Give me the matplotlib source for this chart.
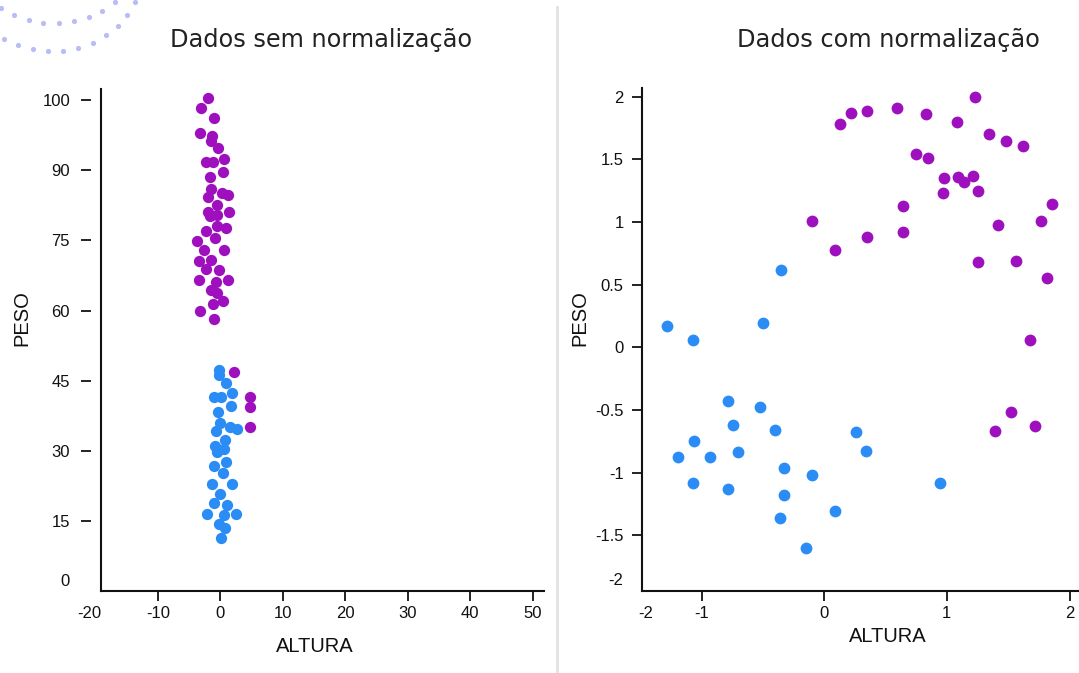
import matplotlib
matplotlib.use("Agg")
import matplotlib.pyplot as plt
from matplotlib.lines import Line2D

# Dados sem normalização (altura, peso)
altura_sem_roxo = [-2.05, -3.12, -1.09, -3.23, -1.41, -1.57, -0.45, -2.37, -1.15, 0.56,
                   0.40, -1.73, -1.47, -2.00, 0.29, 1.25, -0.51, -2.00, 1.41, -1.68,
                   -0.56, -0.51, 0.88, -2.32, -0.88, -3.76, 0.56, -2.64, -3.44, -1.47,
                   -2.32, -0.24, -3.44, -0.77, 1.15, -1.57, -0.51, 0.45, -1.20, -3.32,
                   -1.04, 2.11, 4.71, 4.71, 4.71]
peso_sem_roxo = [105.4, 103.3, 101.2, 97.9, 97.3, 96.2, 94.8, 91.7, 91.7, 92.4,
                 89.6, 88.5, 86.1, 84.3, 85.2, 84.8, 82.5, 81.1, 81.0, 80.2,
                 80.4, 78.1, 77.6, 77.0, 75.5, 74.9, 72.9, 72.9, 70.6, 70.9,
                 68.8, 68.6, 66.5, 66.2, 66.5, 64.3, 63.8, 62.1, 61.4, 59.8,
                 58.1, 46.9, 41.6, 39.3, 35.1]
altura_sem_azul = [-0.19, -0.29, 0.88, -1.09, 0.13, 1.89, 1.73, -0.40, -0.13, -0.77,
                   1.57, 2.59, 0.72, -0.88, 0.61, -0.51, 0.88, -1.04, 0.40, -1.31,
                   1.84, -0.13, -1.09, 1.04, -2.16, 0.51, 2.48, -0.24, 0.77, 0.13]
peso_sem_azul = [47.2, 46.2, 44.6, 41.6, 41.6, 42.3, 39.5, 38.4, 35.9, 34.3,
                 35.1, 34.7, 32.4, 31.1, 30.4, 29.7, 27.6, 26.8, 25.3, 22.9,
                 22.9, 20.8, 18.8, 18.5, 16.5, 16.2, 16.5, 14.3, 13.4, 11.4]

# Dados com normalização
altura_com_roxo = [0.13, 0.22, 0.35, 0.59, 0.83, 1.08, 1.23, 1.34, 1.48, 1.62,
                   0.75, 0.85, 0.98, 1.09, 1.14, 1.21, 0.97, 1.25, 0.64, 1.86,
                   -0.10, 1.42, 1.77, 0.64, 0.35, 0.09, 1.25, 1.56, 1.82, 1.68,
                   1.52, 1.39, 1.72]
peso_com_roxo = [1.78, 1.87, 1.89, 1.91, 1.86, 1.80, 2.00, 1.70, 1.65, 1.61,
                 1.54, 1.51, 1.35, 1.36, 1.32, 1.37, 1.23, 1.25, 1.13, 1.14,
                 1.01, 0.98, 1.01, 0.92, 0.88, 0.78, 0.68, 0.69, 0.55, 0.06,
                 -0.52, -0.67, -0.63]
altura_com_azul = [-1.28, -1.07, -0.50, -0.35, -0.78, -0.52, -0.74, -0.40, -1.06, -1.19,
                   -0.93, -0.70, -0.33, -0.10, 0.26, 0.34, -1.07, -0.78, -0.33, -0.36,
                   0.09, -0.15, 0.94]
peso_com_azul = [0.17, 0.06, 0.19, 0.62, -0.43, -0.48, -0.62, -0.66, -0.75, -0.88,
                 -0.88, -0.84, -0.96, -1.02, -0.68, -0.83, -1.08, -1.13, -1.18, -1.36,
                 -1.31, -1.60, -1.08]

titulos = ["Dados sem normalização", "Dados com normalização"]
ticks_sem_y = [15, 30, 45, 60, 75, 90, 105]
labels_sem_y = ["15", "30", "45", "60", "75", "90", "100"]
ticks_sem_x = [-10, 0, 10, 20, 30, 40, 50]
ticks_com = [-1.5, -1, -0.5, 0, 0.5, 1, 1.5, 2]
ticks_com_x = [-1, 0, 1, 2]

# pontinhos decorativos no canto
decor_x = [0.7, 14, 28.7, 43.3, 59, 74, 88.7, 102.3, 115,
           4, 18.3, 32.7, 48, 63.3, 78.3, 93, 106, 117.7, 127.3, 134.7]
decor_y = [8.3, 15, 20.3, 22.7, 23, 21, 16.7, 10.7, 2.3,
           39.3, 45.3, 49.3, 51, 50.7, 47.7, 42.7, 35.3, 26, 14.7, 1.7]

roxo = "#9E10BE"
azul = "#2A8CF4"
preto = "#111111"
plt.rcParams["font.family"] = ["Liberation Sans", "DejaVu Sans"]
plt.rcParams["axes.unicode_minus"] = False

W, H = 1079, 673
fig = plt.figure(figsize=(W / 100, H / 100), dpi=100)

ax1 = fig.add_axes([101 / W, 1 - 591 / H, 443 / W, 502 / H])
ax2 = fig.add_axes([642 / W, 1 - 591 / H, 437 / W, 503 / H])

ax1.scatter(altura_sem_roxo, peso_sem_roxo, s=66, color=roxo, linewidths=0)
ax1.scatter(altura_sem_azul, peso_sem_azul, s=66, color=azul, linewidths=0)
ax2.scatter(altura_com_roxo, peso_com_roxo, s=72, color=roxo, linewidths=0)
ax2.scatter(altura_com_azul, peso_com_azul, s=72, color=azul, linewidths=0)

ax1.set_xlim(-19.1, 51.8)
ax1.set_ylim(0, 107.4)
ax2.set_xlim(-1.485, 2.077)
ax2.set_ylim(-1.946, 2.07)

for ax in (ax1, ax2):
    for s in ("top", "right"):
        ax.spines[s].set_visible(False)
    for s in ("left", "bottom"):
        ax.spines[s].set_linewidth(1.5)
        ax.spines[s].set_color(preto)
    ax.tick_params(length=7.3, width=1.3, color=preto, labelsize=12,
                   labelcolor=preto)
    ax.tick_params(axis="x", pad=3.5)

# eixo esquerdo: marcas do eixo y soltas da linha
ax1.spines["left"].set_position(("outward", 7))
ax1.spines["left"].set_visible(False)
ax1.axvline(-19.1, color=preto, lw=1.5, clip_on=False)
ax1.set_xticks(ticks_sem_x)
ax1.set_yticks([2.4] + ticks_sem_y)
ax1.set_yticklabels(["0"] + labels_sem_y)
ax1.yaxis.get_major_ticks()[0].tick1line.set_visible(False)
ax1.tick_params(axis="y", pad=8)
ax1.annotate("-20", xy=(-20.9, 0), xycoords=("data", "axes fraction"),
             xytext=(0, -10.8), textcoords="offset points", ha="center", va="top",
             fontsize=12, color=preto, annotation_clip=False)

# eixo direito
ax2.set_xticks([-1.455] + ticks_com_x)
ax2.set_xticklabels(["-2", "-1", "0", "1", "2"])
ax2.xaxis.get_major_ticks()[0].tick1line.set_visible(False)
ax2.set_yticks([-1.85] + ticks_com)
ax2.set_yticklabels(["-2", "-1.5", "-1", "-0.5", "0", "0.5", "1", "1.5", "2"])
ax2.yaxis.get_major_ticks()[0].tick1line.set_visible(False)
ax2.tick_params(axis="y", pad=6)

for ax in (ax1, ax2):
    ax.set_xlabel("ALTURA", fontsize=14.5, color=preto)
    ax.set_ylabel("PESO", fontsize=14.5, color=preto)
ax1.xaxis.set_label_coords((315 - 101) / 443, -0.0926)
ax1.yaxis.set_label_coords(-0.158, 0.544)
ax2.xaxis.set_label_coords((888 - 642) / 437, -0.0706)
ax2.yaxis.set_label_coords(-0.121, 0.543)

fig.text(321 / W, 1 - 40 / H, titulos[0], ha="center", va="center",
         fontsize=17.3, color="#222222", family=["DejaVu Sans"])
fig.text(888 / W, 1 - 40 / H, titulos[1], ha="center", va="center",
         fontsize=17.3, color="#222222", family=["DejaVu Sans"])

# linha separadora
fig.add_artist(Line2D([557 / W, 557 / W], [0, 1 - 7 / H], color="#e2e2e2", lw=2))

# decoracao
deco = fig.add_axes([0, 0, 1, 1], zorder=-1)
deco.set_xlim(0, W)
deco.set_ylim(H, 0)
deco.axis("off")
deco.scatter(decor_x, decor_y, s=14, color="#b9bcf6", linewidths=0)

fig.savefig("out.png", dpi=100)
